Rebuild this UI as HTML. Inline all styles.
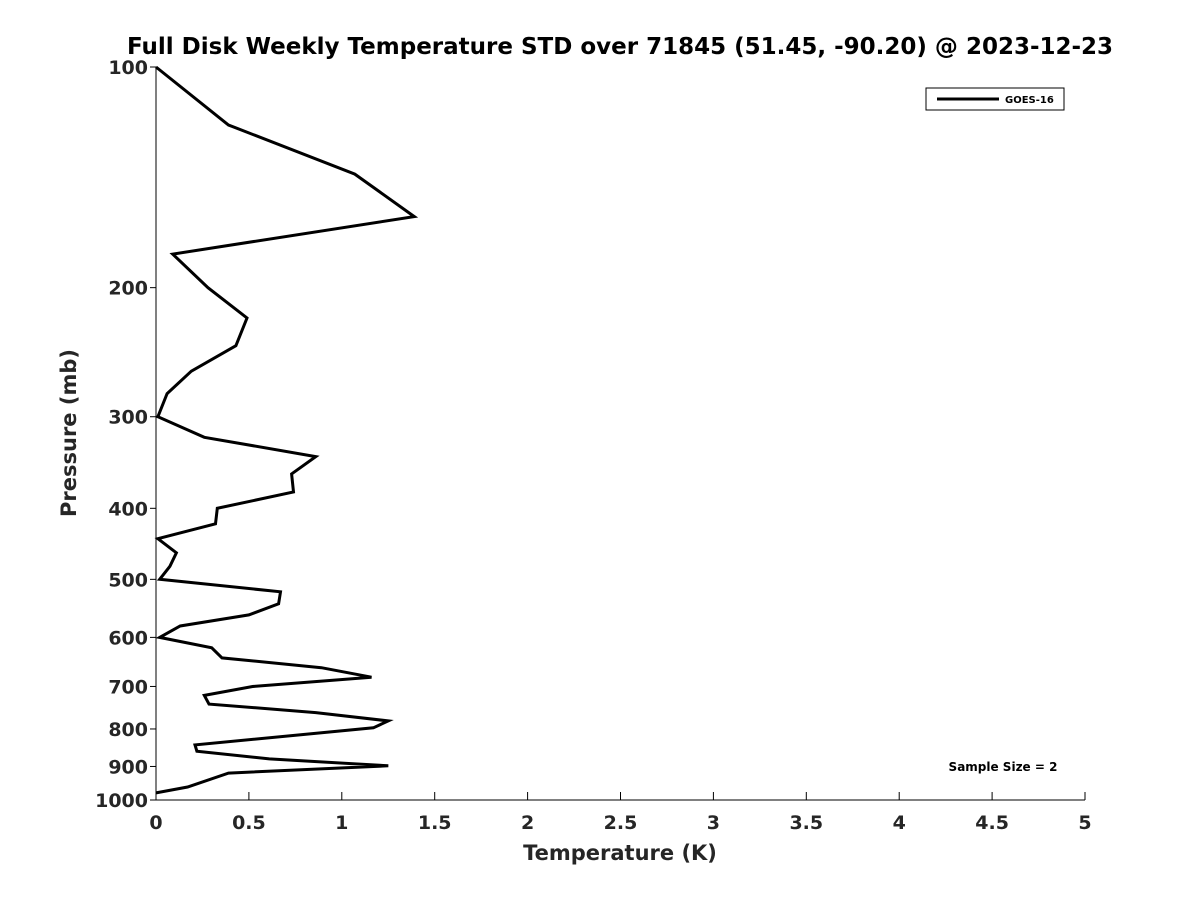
<!DOCTYPE html>
<html><head><meta charset="utf-8"><style>
body{margin:0;background:#fff;}
svg text{font-family:"DejaVu Sans","Liberation Sans",sans-serif;font-weight:bold;}
</style></head><body>
<svg id="chart" width="1200" height="900" xmlns="http://www.w3.org/2000/svg">
<text x="620" y="54" font-size="23" text-anchor="middle" fill="#000">Full Disk Weekly Temperature STD over 71845 (51.45, -90.20) @ 2023-12-23</text>
<g id="axes"></g>
<path id="series" fill="none" stroke="#000" stroke-width="3" stroke-linejoin="miter"/>
<text x="620" y="860" font-size="21" text-anchor="middle" fill="#262626">Temperature (K)</text>
<text transform="translate(76,433) rotate(-90)" font-size="21" text-anchor="middle" fill="#262626">Pressure (mb)</text>
<g>
<rect x="926" y="88" width="138" height="22" fill="#fff" stroke="#000" stroke-width="1"/>
<line x1="937" y1="99" x2="999" y2="99" stroke="#000" stroke-width="3"/>
<text x="1005" y="103" font-size="10" fill="#000">GOES-16</text>
</g>
<text x="1003" y="771" font-size="12" text-anchor="middle" fill="#000">Sample Size = 2</text>
</svg>
<script>
const temps=[0,0.39,1.07,1.39,0.09,0.28,0.49,0.43,0.19,0.06,0.01,0.26,0.86,0.73,0.74,0.33,0.32,0.01,0.11,0.075,0.02,0.67,0.66,0.50,0.13,0.02,0.30,0.355,0.89,1.16,0.52,0.26,0.285,0.86,1.25,1.17,0.21,0.22,0.61,1.25,0.39,0.17,0];
const pressures=[100,120,140,160,180,200,220,240,260,279,300,320,340,359,380,400,420,440,460,480,500,520,540,559,579,600,620,640,660,680,700,720,740,760,780,797,841,858,879,898,919,960,978];
const xTicks=[0,0.5,1,1.5,2,2.5,3,3.5,4,4.5,5];
const xTickLabels=["0","0.5","1","1.5","2","2.5","3","3.5","4","4.5","5"];
const yTicks=[100,200,300,400,500,600,700,800,900,1000];
const yTickLabels=["100","200","300","400","500","600","700","800","900","1000"];
const X0=156,X1=1085,Y0=67,Y1=800;
function xs(v){return X0+(v-0)/(5-0)*(X1-X0);}
function ys(p){return Y0+(Math.log10(p)-2)/1*(Y1-Y0);}
const NS="http://www.w3.org/2000/svg";
const ax=document.getElementById('axes');
function mk(t,a,txt){const e=document.createElementNS(NS,t);for(const k in a)e.setAttribute(k,a[k]);if(txt!==undefined)e.textContent=txt;ax.appendChild(e);return e;}
let l=mk('line',{x1:X0,y1:Y0,x2:X0,y2:Y1,stroke:'#000','stroke-width':1});


l=mk('line',{x1:X0,y1:Y1,x2:X1,y2:Y1,stroke:'#000','stroke-width':1});


xTicks.forEach((v,i)=>{
 const x=xs(v);
 mk('line',{x1:x,y1:Y1,x2:x,y2:Y1-8,stroke:'#000','stroke-width':1});
 const t=mk('text',{x:x,y:Y1+29,'font-size':19,'text-anchor':'middle',fill:'#262626'},xTickLabels[i]);
 
 
});
yTicks.forEach((v,i)=>{
 const y=ys(v);
 mk('line',{x1:X0,y1:y,x2:X0-6,y2:y,stroke:'#000','stroke-width':1});
 const t=mk('text',{x:X0-8,y:y+7,'font-size':19,'text-anchor':'end',fill:'#262626'},yTickLabels[i]);
 
 
});
document.getElementById('series').setAttribute('d',temps.map((t,i)=>(i?'L':'M')+xs(t).toFixed(1)+' '+ys(pressures[i]).toFixed(1)).join(' '));
</script>
</body></html>
